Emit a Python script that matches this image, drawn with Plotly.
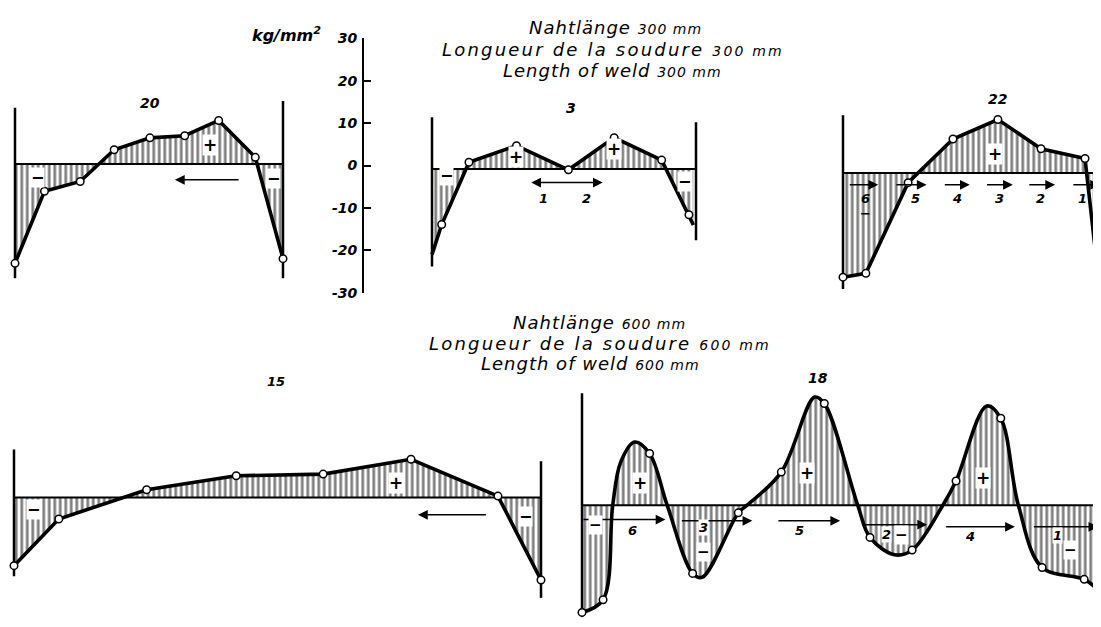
import plotly.graph_objects as go

# ---------------- data (kg/mm^2 along the weld, mm) ----------------
# Panel 20 (300 mm)
x20 = [0, 33, 73, 111, 151, 190, 228, 269, 300]
y20 = [-23.4, -6.4, -4.1, 3.4, 6.2, 6.7, 10.3, 1.6, -22.3]
# Panel 3 (300 mm)  (first and last values are curve ends, no measuring point)
x3 = [0, 11, 42, 96, 155, 207, 261, 292, 297]
y3 = [-20.2, -13.1, 1.6, 5.5, -0.2, 7.4, 2.1, -10.8, -13.2]
# Panel 22 (300 mm)
x22 = [0, 26, 74, 125, 176, 225, 275, 291]
y22 = [-24.6, -23.7, -2.3, 8.0, 12.6, 5.7, 3.4, -26.2]
# Panel 15 (600 mm)
x15 = [0, 51, 151, 253, 352, 452, 551, 600]
y15 = [-16.1, -5.1, 1.8, 5.1, 5.5, 9.0, 0.3, -19.5]
# Panel 18 (600 mm) smooth curve and measuring points
x18 = [0, 24, 35, 44, 60, 77, 97, 126, 137, 178, 188, 227, 265, 276, 314, 328,
       356, 376, 411, 426, 461, 477, 497, 524, 572, 591, 600]
y18 = [-25.3, -22.3, 0, 10.1, 14.9, 12.2, 0, -16.1, -17.0, -1.8, 0, 7.8, 25.5,
       24.0, 0, -7.6, -11.7, -10.6, 0, 5.7, 23.4, 20.5, 0, -14.7, -17.5, -20.5, -22.0]
x18_pts = [0, 24, 77, 126, 178, 227, 276, 328, 376, 426, 477, 524, 572]
y18_pts = [-25.3, -22.3, 12.2, -16.1, -1.8, 7.8, 24.0, -7.6, -10.6, 5.7, 20.5, -14.7, -17.5]

scale_ticks = [30, 20, 10, 0, -10, -20, -30]
scale_labels = ["30", "20", "10", "0", "-10", "-20", "-30"]

# ---------------- layout helpers ----------------
W, H = 1101, 627
OFF = 8          # page margin of the browser body
K = 4.35         # px per kg/mm^2
FONT = "DejaVu Sans"

fig = go.Figure()


def ax_names(n):
    return ("x" if n == 1 else f"x{n}"), ("y" if n == 1 else f"y{n}")


def set_panel(n, x0px, s, ybpx, box):
    x0px -= OFF
    ybpx -= OFF
    bx0, bx1, by0, by1 = box
    bx0 = max(0, bx0 - OFF); bx1 = min(W, bx1 - OFF)
    by0 = max(0, by0 - OFF); by1 = min(H, by1 - OFF)
    xk = "xaxis" if n == 1 else f"xaxis{n}"
    yk = "yaxis" if n == 1 else f"yaxis{n}"
    xa, ya = ax_names(n)
    fig.update_layout({
        xk: dict(domain=[bx0 / W, bx1 / W], range=[(bx0 - x0px) / s, (bx1 - x0px) / s],
                 visible=False, anchor=ya),
        yk: dict(domain=[1 - by1 / H, 1 - by0 / H], range=[(ybpx - by1) / K, (ybpx - by0) / K],
                 visible=False, anchor=xa),
    })


def add_panel(n, x, y, xm, ym, vlines, end, spline=False):
    xa, ya = ax_names(n)
    fig.add_trace(go.Scatter(
        x=x, y=y, mode="lines", fill="tozeroy", fillcolor="rgba(0,0,0,0)",
        fillpattern=dict(shape="|", size=5.5, solidity=0.5, fgcolor="black", bgcolor="white"),
        line=dict(color="black", width=3.6, shape="spline" if spline else "linear",
                  smoothing=1.0 if spline else None),
        xaxis=xa, yaxis=ya, hoverinfo="skip"))
    fig.add_trace(go.Scatter(x=[0, end], y=[0, 0], mode="lines",
                             line=dict(color="black", width=2), xaxis=xa, yaxis=ya, hoverinfo="skip"))
    for xv, top, bot in vlines:
        fig.add_trace(go.Scatter(x=[xv, xv], y=[top, bot], mode="lines",
                                 line=dict(color="black", width=2.5), xaxis=xa, yaxis=ya, hoverinfo="skip"))
    fig.add_trace(go.Scatter(x=xm, y=ym, mode="markers",
                             marker=dict(symbol="circle", size=7.5, color="white",
                                         line=dict(color="black", width=1.5)),
                             xaxis=xa, yaxis=ya, cliponaxis=False, hoverinfo="skip"))


def txt(n, x, y, t, size=13, bg=None, bold=True, italic=True):
    xa, ya = ax_names(n)
    s = t
    if bold:
        s = f"<b>{s}</b>"
    if italic:
        s = f"<i>{s}</i>"
    a = dict(x=x, y=y, xref=xa, yref=ya, text=s, showarrow=False,
             xanchor="center", yanchor="middle",
             font=dict(family=FONT, size=size, color="black"))
    if bg:
        a.update(bgcolor=bg, borderpad=0)
    fig.add_annotation(**a)


def arrow(n, x_tail, x_head, yv, both=False):
    xa, ya = ax_names(n)
    fig.add_annotation(x=x_head, y=yv, ax=x_tail, ay=yv, xref=xa, yref=ya, axref=xa, ayref=ya,
                       text="", showarrow=True, arrowhead=2, arrowsize=1.3, arrowwidth=1.5,
                       arrowcolor="black", arrowside="end+start" if both else "end",
                       startarrowhead=2, startarrowsize=1.3)


# ---------------- panels ----------------
set_panel(1, 15, 268 / 300, 160, (0, 330, 80, 300))
add_panel(1, x20, y20, x20, y20, [(0, 13.3, -26.9), (300, 14.9, -26.9)], 300)
txt(1, 151, 14.5, "20", 14)
arrow(1, 252, 179, -3.7)
txt(1, 218, 4.6, "+", 17, bg="white")
txt(1, 25, -3.2, "−", 16, bg="white", italic=False)
txt(1, 289, -3.4, "−", 16, bg="white", italic=False)

set_panel(2, 432, 0.88, 165, (400, 720, 85, 300))
add_panel(2, x3, y3, x3[1:-1], y3[1:-1], [(0, 12.2, -23.0), (300, 11.0, -16.8)], 300)
txt(2, 158, 14.3, "3", 14)
arrow(2, 111, 194, -3.2, both=True)
txt(2, 127, -7.0, "1", 13)
txt(2, 176, -7.0, "2", 13)
txt(2, 95, 2.8, "+", 17, bg="white")
txt(2, 207, 4.6, "+", 17, bg="white")
txt(2, 17, -1.6, "−", 16, bg="white", italic=False)
txt(2, 287, -3.0, "−", 16, bg="white", italic=False)

set_panel(3, 843, 0.88, 169, (800, 1110, 75, 310))
add_panel(3, x22, y22, x22[:-1], y22[:-1], [(0, 13.6, -27.4)], 300)
txt(3, 176, 17.5, "22", 14)
for t, h in [(6, 40), (59, 95), (114, 144), (162, 193), (210, 241), (260, 292)]:
    arrow(3, t, h, -2.8)
for lab, xv in [("6", 25), ("5", 82), ("4", 130), ("3", 178), ("2", 224), ("1", 272)]:
    txt(3, xv, -6.0, lab, 13)
txt(3, 25, -9.6, "−", 13, italic=False)
txt(3, 173, 4.4, "+", 17, bg="white")

set_panel(4, 14, 527 / 600, 502, (0, 560, 368, 635))
add_panel(4, x15, y15, x15, y15, [(0, 11.3, -18.6), (600, 8.5, -23.7)], 600)
txt(4, 298, 27.4, "15", 13)
arrow(4, 539, 460, -4.1)
txt(4, 435, 3.4, "+", 17, bg="white")
txt(4, 22, -2.8, "−", 16, bg="white", italic=False)
txt(4, 582, -4.4, "−", 16, bg="white", italic=False)

set_panel(5, 582, 0.878, 510, (560, 1110, 368, 635))
add_panel(5, x18, y18, x18_pts, y18_pts, [(0, 26.4, -26.4)], 600, spline=True)
txt(5, 269, 29.9, "18", 14)
for t, h, yv in [(0, 95, -3.4), (112, 194, -3.7), (222, 294, -3.7),
                 (319, 393, -4.6), (413, 493, -5.1), (513, 588, -5.1)]:
    arrow(5, t, h, yv)
for lab, xv, yv in [("6", 57, -5.9), ("3", 138, -5.3), ("5", 248, -5.9),
                    ("2", 347, -7.0), ("4", 442, -7.5), ("1", 542, -7.2)]:
    txt(5, xv, yv, lab, 13, bg="white")
for xv, yv in [(15, -4.6), (138, -11.0), (364, -7.0), (556, -10.6)]:
    txt(5, xv, yv, "−", 15, bg="white", italic=False)
for xv, yv in [(66, 5.3), (256, 7.6), (457, 6.4)]:
    txt(5, xv, yv, "+", 17, bg="white")

# ---------------- stress scale ----------------
fig.add_trace(go.Scatter(x=[0] * len(scale_ticks), y=scale_ticks, mode="markers",
                         marker=dict(opacity=0), xaxis="x6", yaxis="y6", hoverinfo="skip"))
fig.update_layout(
    xaxis6=dict(domain=[(360 - OFF) / W, (366 - OFF) / W], visible=False, range=[0, 1]),
    yaxis6=dict(domain=[1 - (292 - OFF) / H, 1 - (31 - OFF) / H], range=[-30, 30], anchor="free",
                position=(363 - OFF) / W, tickvals=scale_ticks, ticktext=scale_labels,
                ticks="inside", ticklen=7, tickwidth=1.5, tickcolor="black",
                showline=True, linewidth=1.8, linecolor="black", showgrid=False,
                zeroline=False, ticklabelstandoff=2,
                tickfont=dict(family=FONT, size=14, color="black", style="italic", weight="bold")),
)

# ---------------- titles ----------------
def ptxt(xpx, ypx, t, size=18, ls=0):
    if ls:
        t = f"<span style='letter-spacing:{ls}px'>{t}</span>"
    fig.add_annotation(x=(xpx - OFF) / W, y=1 - (ypx - OFF) / H, xref="paper", yref="paper",
                       xanchor="center", yanchor="middle", text=f"<i>{t}</i>",
                       showarrow=False, font=dict(family=FONT, size=size, color="black"))


sm = "<span style='font-size:14px'>{}</span>"
ptxt(615, 20, "Nahtlänge " + sm.format("300 mm"), ls=1)
ptxt(613, 42, "Longueur de la soudure " + sm.format("300 mm"), ls=2.2)
ptxt(612, 64, "Length of weld " + sm.format("300 mm"), ls=1)
ptxt(600, 323, "Nahtlänge " + sm.format("600 mm"), ls=1)
ptxt(600, 344, "Longueur de la soudure " + sm.format("600 mm"), ls=2.2)
ptxt(590, 365, "Length of weld " + sm.format("600 mm"), ls=1)
ptxt(286, 27, "<b>kg/mm<sup>2</sup></b>", 16)

fig.update_layout(width=W, height=H, margin=dict(l=0, r=0, t=0, b=0),
                  paper_bgcolor="white", plot_bgcolor="rgba(0,0,0,0)", showlegend=False)
fig.write_html("out.html")
